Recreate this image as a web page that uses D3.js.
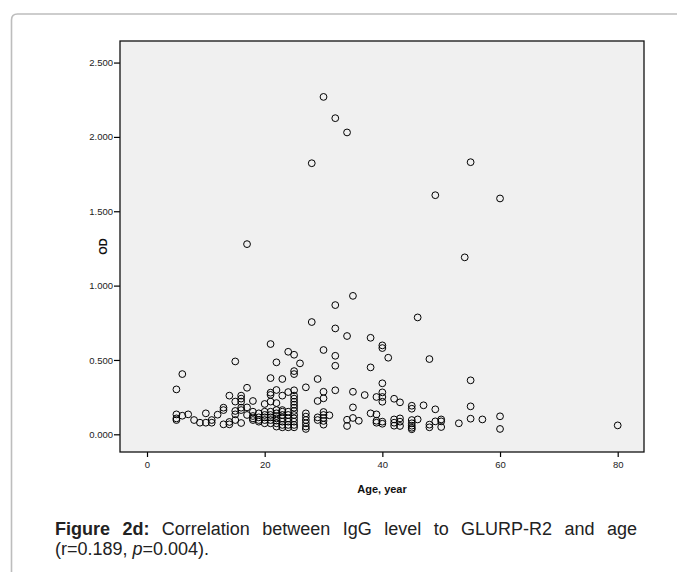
<!DOCTYPE html>
<html>
<head>
<meta charset="utf-8">
<script src="https://cdn.jsdelivr.net/npm/d3@7"></script>
<style>
  html, body { margin: 0; padding: 0; background: #fff; }
  svg { display: block; }
</style>
</head>
<body>
<svg id="chart" width="677" height="572"></svg>
<script>
// ---- Data ----
const ages = [
  30, 32, 34, 28, 55, 49, 60, 17, 54,
  35, 32, 46, 28, 32, 34, 38, 40, 40, 21, 30, 24, 25, 32, 41, 48, 15, 22, 26, 32, 38,
  6, 25, 25, 21, 23, 29, 55, 40, 5, 17, 27, 30, 22, 25, 24, 21, 21, 14, 23,
  25, 25, 25, 25, 25, 25, 16, 16, 16, 15, 18, 20, 21, 22, 30, 29,
  13, 13, 17, 16, 16, 15, 5, 5, 5, 6, 7, 10, 12, 8, 9, 10, 11, 11, 13, 14, 14, 15, 16, 17, 15,
  32, 35, 37, 39, 40, 40, 40, 42, 43, 45, 45, 47, 49, 35, 55,
  30, 30, 30, 30, 30, 31, 34, 34, 35, 36, 38, 39, 39, 39, 40, 40, 42, 42, 42, 43, 43, 43,
  45, 45, 45, 45, 45, 46, 48, 48, 49, 50, 50, 50, 53, 55, 57, 60, 60, 80,
  18, 18, 18, 18, 19, 19, 19, 19, 20, 20, 20, 20, 20, 21, 21, 21, 21, 21,
  22, 22, 22, 22, 22, 22, 22, 23, 23, 23, 23, 23, 23, 23, 24, 24, 24, 24, 24, 24,
  25, 25, 25, 25, 25, 27, 27, 27, 27, 27, 27, 29, 29
];
const od = [
  2.269, 2.126, 2.030, 1.823, 1.830, 1.608, 1.586, 1.279, 1.190,
  0.931, 0.869, 0.786, 0.755, 0.712, 0.661, 0.649, 0.598, 0.580, 0.607, 0.567, 0.555, 0.535, 0.528, 0.515, 0.506, 0.490, 0.484, 0.477, 0.461, 0.450,
  0.405, 0.425, 0.405, 0.378, 0.372, 0.372, 0.363, 0.343, 0.302, 0.313, 0.316, 0.286, 0.298, 0.296, 0.284, 0.280, 0.265, 0.260, 0.260,
  0.260, 0.240, 0.219, 0.199, 0.179, 0.157, 0.260, 0.240, 0.220, 0.220, 0.224, 0.204, 0.220, 0.210, 0.242, 0.224,
  0.179, 0.163, 0.181, 0.179, 0.163, 0.157, 0.134, 0.107, 0.096, 0.125, 0.134, 0.141, 0.132, 0.096, 0.078, 0.078, 0.096, 0.078, 0.067, 0.067, 0.083, 0.096, 0.076, 0.130, 0.134,
  0.296, 0.286, 0.264, 0.251, 0.282, 0.251, 0.219, 0.239, 0.215, 0.192, 0.172, 0.195, 0.168, 0.181, 0.188,
  0.150, 0.130, 0.110, 0.090, 0.065, 0.128, 0.098, 0.056, 0.110, 0.091, 0.141, 0.134, 0.091, 0.078, 0.085, 0.071, 0.100, 0.078, 0.058, 0.107, 0.085, 0.056,
  0.096, 0.074, 0.058, 0.044, 0.034, 0.100, 0.065, 0.047, 0.087, 0.100, 0.087, 0.049, 0.074, 0.105, 0.100, 0.121, 0.036, 0.060,
  0.152, 0.123, 0.107, 0.096, 0.141, 0.114, 0.096, 0.085, 0.152, 0.130, 0.114, 0.096, 0.074, 0.152, 0.130, 0.114, 0.096, 0.074,
  0.163, 0.141, 0.123, 0.107, 0.092, 0.074, 0.052, 0.163, 0.152, 0.130, 0.107, 0.085, 0.063, 0.047, 0.152, 0.130, 0.107, 0.085, 0.063, 0.047,
  0.130, 0.107, 0.085, 0.063, 0.047, 0.141, 0.119, 0.096, 0.074, 0.052, 0.036, 0.114, 0.096
];
const xTicks = [0, 20, 40, 60, 80];
const yTicks = [0, 0.5, 1.0, 1.5, 2.0, 2.5];
const xTitle = "Age, year";
const yTitle = "OD";
const captionBoldWords = ["Figure", "2d:"];
const captionLine1 = "Correlation between IgG level to GLURP-R2 and age";
const captionLine2a = "(r=0.189, ";
const captionLine2b = "p";
const captionLine2c = "=0.004).";

// ---- Layout ----
const svg = d3.select("#chart");
const frame = { left: 120, right: 644, top: 41, bottom: 452 };

// outer rounded border
svg.append("path")
  .attr("d", "M11.5,600 L11.5,20 Q11.5,14 17.5,14 L690,14")
  .attr("fill", "none")
  .attr("stroke", "#bdbdbd")
  .attr("stroke-width", 1.6);

const x = d3.scaleLinear().domain([-4.59, 84.47]).range([frame.left, frame.right]);
const y = d3.scaleLinear().domain([-0.119, 2.645]).range([frame.bottom, frame.top]);

svg.append("rect")
  .attr("x", frame.left).attr("y", frame.top)
  .attr("width", frame.right - frame.left).attr("height", frame.bottom - frame.top)
  .attr("fill", "#f0f0f0");

const fmt = d3.format(".3f");
const yAxis = svg.append("g")
  .attr("transform", `translate(${frame.left},0)`)
  .call(d3.axisLeft(y).tickValues(yTicks).tickFormat(fmt).tickSize(6).tickPadding(1));
const xAxis = svg.append("g")
  .attr("transform", `translate(0,${frame.bottom})`)
  .call(d3.axisBottom(x).tickValues(xTicks).tickSize(5).tickPadding(4));

[yAxis, xAxis].forEach(g => {
  g.select(".domain").remove();
  g.selectAll(".tick line").attr("stroke", "#000").attr("stroke-width", 1.2);
  g.selectAll(".tick text")
    .attr("fill", "#222")
    .style("font-family", "Arial, 'Liberation Sans', sans-serif")
    .style("font-size", "9.5px");
});

// frame border
svg.append("rect")
  .attr("x", frame.left).attr("y", frame.top)
  .attr("width", frame.right - frame.left).attr("height", frame.bottom - frame.top)
  .attr("fill", "none")
  .attr("stroke", "#111")
  .attr("stroke-width", 1.3);

// points
svg.append("g")
  .selectAll("circle")
  .data(ages.map((a, i) => ({ a, v: od[i] })))
  .join("circle")
  .attr("cx", d => x(d.a))
  .attr("cy", d => y(d.v))
  .attr("r", 3.4)
  .attr("fill", "none")
  .attr("stroke", "#000")
  .attr("stroke-width", 1);

// axis titles
svg.append("text")
  .attr("x", (frame.left + frame.right) / 2)
  .attr("y", 493)
  .attr("text-anchor", "middle")
  .style("font-family", "Arial, 'Liberation Sans', sans-serif")
  .style("font-size", "11px")
  .style("font-weight", "bold")
  .attr("fill", "#111")
  .text(xTitle);

svg.append("text")
  .attr("transform", `translate(107,${(frame.top + frame.bottom) / 2}) rotate(-90)`)
  .attr("text-anchor", "middle")
  .style("font-family", "Arial, 'Liberation Sans', sans-serif")
  .style("font-size", "11px")
  .style("font-weight", "bold")
  .attr("fill", "#111")
  .text(yTitle);

// caption (justified first line)
const capFont = "Arial, 'Liberation Sans', sans-serif";
const capSize = "18px";
const line1Words = captionBoldWords.map(t => ({ t, b: true }))
  .concat(captionLine1.split(" ").map(t => ({ t, b: false })));
const capLeft = 55, capRight = 637, cap1Y = 535, cap2Y = 555;
const cap = svg.append("g").attr("fill", "#222")
  .style("font-family", capFont).style("font-size", capSize);
const nodes = line1Words.map(w => cap.append("text")
  .attr("y", cap1Y)
  .style("font-weight", w.b ? "bold" : "normal")
  .text(w.t));
const widths = nodes.map(n => n.node().getComputedTextLength());
const total = d3.sum(widths);
const gap = (capRight - capLeft - total) / (nodes.length - 1);
let cx = capLeft;
nodes.forEach((n, i) => { n.attr("x", cx); cx += widths[i] + gap; });

const l2 = cap.append("text").attr("x", capLeft).attr("y", cap2Y);
l2.append("tspan").text(captionLine2a);
l2.append("tspan").style("font-style", "italic").text(captionLine2b);
l2.append("tspan").text(captionLine2c);
</script>
</body>
</html>
